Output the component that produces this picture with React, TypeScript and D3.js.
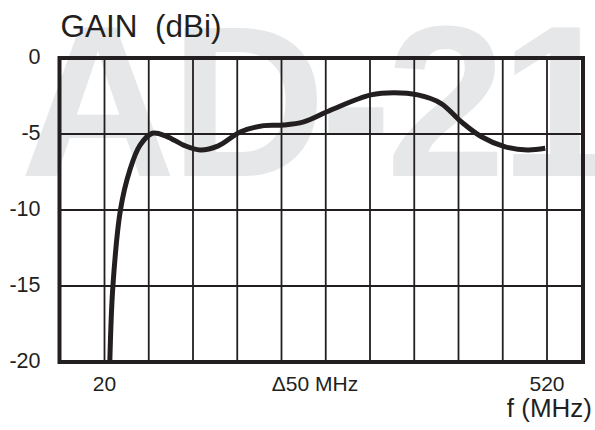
import React from "react";
import * as d3 from "d3";

// ---- data ----
const freqMHz = [26, 29.5, 38, 48.5, 60, 74, 90, 110, 128, 148, 174, 200, 222, 245, 276, 321, 347, 374, 400, 423, 446, 472, 498, 518];
const gainDbi = [-20, -15, -10, -7.4, -5.75, -4.95, -5.15, -5.75, -6.05, -5.8, -4.85, -4.45, -4.41, -4.2, -3.42, -2.43, -2.28, -2.43, -2.98, -4.19, -5.18, -5.83, -6.05, -5.94];
const gainTicks = [0, -5, -10, -15, -20];
const freqGrid = [20, 70, 120, 170, 220, 270, 320, 370, 420, 470, 520];
const freqLabels = [20, 520];
const stepLabel = "\u039450 MHz";
const yTitle = "GAIN  (dBi)";
const xTitle = "f (MHz)";
const watermark = "AD-21";

const W = 595;
const H = 430;
const ink = "#231f20";
const font = "'Liberation Sans', Arial, Helvetica, sans-serif";

export default function App() {
  const left = 59.5, right = 583, top = 58, bottom = 362;
  const x = d3.scaleLinear().domain([20, 520]).range([104.5, 547]);
  const y = d3.scaleLinear().domain([0, -20]).range([top, bottom]);
  const pts: [number, number][] = freqMHz.map((f, i) => [f, gainDbi[i]]);
  const line = d3
    .line<[number, number]>()
    .x((d) => x(d[0]))
    .y((d) => y(d[1]))
    .curve(d3.curveCatmullRom.alpha(0.5));

  return (
    <svg
      width={W}
      height={H}
      viewBox={`0 0 ${W} ${H}`}
      style={{ position: "absolute", left: 0, top: 0, background: "#fff" }}
    >
      <defs>
        <clipPath id="plot">
          <rect x={left} y={top} width={right - left} height={bottom - top} />
        </clipPath>
      </defs>
      <rect x={0} y={0} width={W} height={H} fill="#fff" />
      {/* watermark */}
      <text
        x={20}
        y={176}
        fontFamily={font}
        fontWeight="bold"
        fontSize={216}
        fill="#e6e7e8"
        textLength={600}
        lengthAdjust="spacing"
      >
        {watermark}
      </text>

      {/* grid */}
      {freqGrid.map((f) => (
        <line key={"v" + f} x1={x(f)} x2={x(f)} y1={top} y2={bottom} stroke={ink} strokeWidth={1.8} />
      ))}
      {gainTicks.map((g) => (
        <line key={"h" + g} x1={left} x2={right} y1={y(g)} y2={y(g)} stroke={ink} strokeWidth={1.8} />
      ))}

      {/* curve */}
      <path
        d={line(pts) || ""}
        fill="none"
        stroke={ink}
        strokeWidth={5}
        strokeLinejoin="round"
        clipPath="url(#plot)"
      />

      {/* frame */}
      <rect x={left} y={top} width={right - left} height={bottom - top} fill="none" stroke={ink} strokeWidth={4} />

      {/* y tick labels */}
      {gainTicks.map((g) => (
        <text
          key={"yl" + g}
          x={40.5}
          y={y(g) - 1}
          textAnchor="end"
          dominantBaseline="central"
          fontFamily={font}
          fontSize={21.5}
          fill={ink}
        >
          {g}
        </text>
      ))}

      {/* x tick labels */}
      {freqLabels.map((f) => (
        <text
          key={"xl" + f}
          x={x(f)}
          y={391}
          textAnchor="middle"
          fontFamily={font}
          fontSize={21}
          fill={ink}
        >
          {f}
        </text>
      ))}
      <text x={315} y={391} textAnchor="middle" fontFamily={font} fontSize={21} fill={ink}>
        {stepLabel}
      </text>

      {/* titles */}
      <text x={60.5} y={36.5} fontFamily={font} fontSize={31.5} fill={ink} style={{ whiteSpace: "pre" }}>
        {yTitle}
      </text>
      <text x={592} y={417} textAnchor="end" fontFamily={font} fontSize={26} fill={ink}>
        {xTitle}
      </text>
    </svg>
  );
}
